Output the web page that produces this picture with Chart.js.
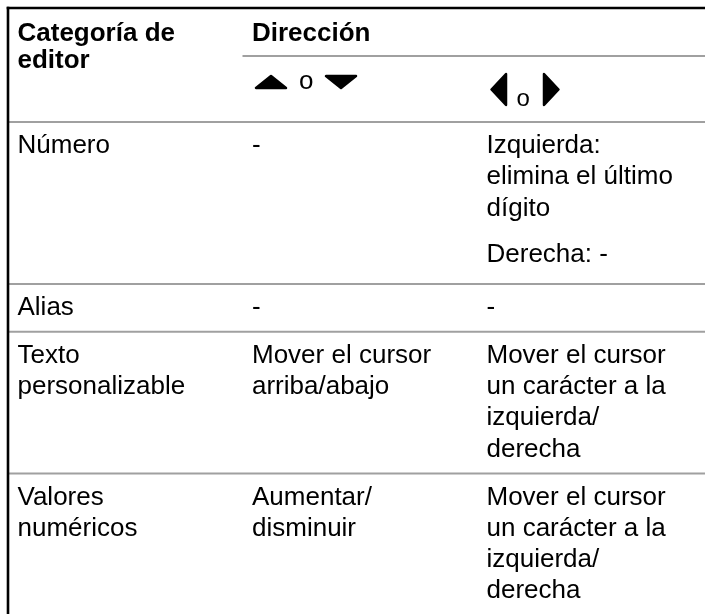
<!DOCTYPE html>
<html><head><meta charset="utf-8">
<script src="https://cdn.jsdelivr.net/npm/chart.js@4.4.1/dist/chart.umd.min.js"></script>
<style>
html,body{margin:0;padding:0;background:#fff;overflow:hidden}
#wrap{width:705px;height:614px;position:relative}
</style>
</head><body>
<div id="wrap"><canvas id="c"></canvas></div>
<script>
// ---------------- data ----------------
const headerTitles = ["Categoría de\neditor", "Dirección"];
const directionKeys = ["updown", "leftright"];
const directionJoin = ["o", "o"];
const categories = ["Número", "Alias", "Texto\npersonalizable", "Valores\nnuméricos"];
const upDownActions = [["-"], ["-"], ["Mover el cursor\narriba/abajo"], ["Aumentar/\ndisminuir"]];
const leftRightActions = [
  ["Izquierda:\nelimina el último\ndígito", "Derecha: -"],
  ["-"],
  ["Mover el cursor\nun carácter a la\nizquierda/\nderecha"],
  ["Mover el cursor\nun carácter a la\nizquierda/\nderecha"]
];

// ---------------- style ----------------
const FONT = '"Liberation Sans", Arial, Helvetica, sans-serif';
const FS = 26;
const LINE_H = 31.3, PAD_TOP = 7, PAD_BOTTOM = 9.5, BASE_OFF = 24;
const PARA_GAP = 15, MULTI_BOTTOM = 5.3;
const TEXT_PAD = 9.5;
const TABLE_TOP = 8, HEAD1_H = 48, HEAD2_H = 66;
const GRID = '#a0a0a0';

function cellLines(paras){ return paras.reduce((s,p)=>s+p.split('\n').length,0); }
function cellHeight(paras){
  const extra = paras.length>1 ? (paras.length-1)*PARA_GAP + MULTI_BOTTOM : 0;
  return PAD_TOP + cellLines(paras)*LINE_H + extra + PAD_BOTTOM;
}

const tablePlugin = {
  id:'tablePlugin',
  afterDraw(chart){
    const ctx = chart.ctx, xs = chart.scales.x, ys = chart.scales.y;
    const X = v=>xs.getPixelForValue(v), Y = v=>ys.getPixelForValue(v);
    const right = chart.width;
    ctx.save();
    ctx.fillStyle='#fff'; ctx.fillRect(0,0,chart.width,chart.height);

    const hline=(x0,x1,y,color,w)=>{ctx.beginPath();ctx.strokeStyle=color;ctx.lineWidth=w;ctx.moveTo(x0,Y(y));ctx.lineTo(x1,Y(y));ctx.stroke();};
    const text=(str,col,baseline,bold,lh)=>{
      ctx.font=(bold?'bold ':'')+FS+'px '+FONT;
      ctx.fillStyle='#000'; ctx.textBaseline='alphabetic'; ctx.textAlign='left';
      str.split('\n').forEach((l,i)=>ctx.fillText(l, X(col)+TEXT_PAD, Y(baseline+i*lh)));
    };
    const tri=(pts)=>{
      ctx.beginPath(); ctx.moveTo(pts[0][0],Y(pts[0][1]));
      for(let i=1;i<pts.length;i++) ctx.lineTo(pts[i][0],Y(pts[i][1]));
      ctx.closePath(); ctx.fillStyle='#000'; ctx.strokeStyle='#000';
      ctx.lineJoin='round'; ctx.lineWidth=2.5; ctx.fill(); ctx.stroke();
    };

    // header
    const h1 = TABLE_TOP + HEAD1_H, h2 = h1 + HEAD2_H;
    text(headerTitles[0], 0, TABLE_TOP+33, true, 27);
    text(headerTitles[1], 1, TABLE_TOP+33, true, 27);
    hline(X(1), right, h1, GRID, 2);

    // sub headers (direction keys)
    directionKeys.forEach((k,i)=>{
      const x0 = X(1+i)+TEXT_PAD;
      ctx.font=FS+'px '+FONT; ctx.fillStyle='#000'; ctx.textBaseline='alphabetic';
      if(k==='updown'){
        const b = h1+33;
        tri([[x0+4,b-1],[x0+34,b-1],[x0+19,b-13]]);
        ctx.fillText(directionJoin[i], x0+47, Y(b));
        tri([[x0+74,b-13],[x0+104,b-13],[x0+89,b-1]]);
      } else {
        const b = h1+50;
        tri([[x0+19.5,b-32],[x0+19.5,b-1],[x0+5,b-16.5]]);
        ctx.font='24px '+FONT;
        ctx.fillText(directionJoin[i], x0+30, Y(b));
        tri([[x0+57.5,b-32],[x0+57.5,b-1],[x0+72,b-16.5]]);
      }
    });
    hline(X(0), right, h2, GRID, 2);

    // body rows
    let top = h2;
    categories.forEach((cat,r)=>{
      const cells=[[cat],upDownActions[r],leftRightActions[r]];
      const rh = Math.max(...cells.map(cellHeight));
      cells.forEach((paras,c)=>{
        let b = top + PAD_TOP + BASE_OFF;
        paras.forEach(p=>{ text(p,c,b,false,LINE_H); b += p.split('\n').length*LINE_H + PARA_GAP; });
      });
      top += rh;
      hline(X(0), right, top, GRID, 2);
    });

    // outer black rules
    ctx.strokeStyle='#000'; ctx.lineWidth=2.6;
    ctx.beginPath(); ctx.moveTo(X(0)-1.3, Y(TABLE_TOP)); ctx.lineTo(right, Y(TABLE_TOP)); ctx.stroke();
    ctx.beginPath(); ctx.moveTo(X(0), Y(TABLE_TOP)-1.3); ctx.lineTo(X(0), chart.height); ctx.stroke();
    ctx.restore();
  }
};

const W = 705, H = 614, COL_W = 234.5, LEFT = 8;
new Chart(document.getElementById('c'), {
  type:'scatter',
  data:{datasets:[{data:[]}]},
  options:{
    responsive:true, maintainAspectRatio:false, animation:false, events:[],
    layout:{padding:0},
    plugins:{legend:{display:false},tooltip:{enabled:false}},
    scales:{
      x:{type:'linear', display:false, min:-LEFT/COL_W, max:(W-LEFT)/COL_W},
      y:{type:'linear', display:false, min:0, max:H, reverse:true}
    }
  },
  plugins:[tablePlugin]
});
</script>
</body></html>
